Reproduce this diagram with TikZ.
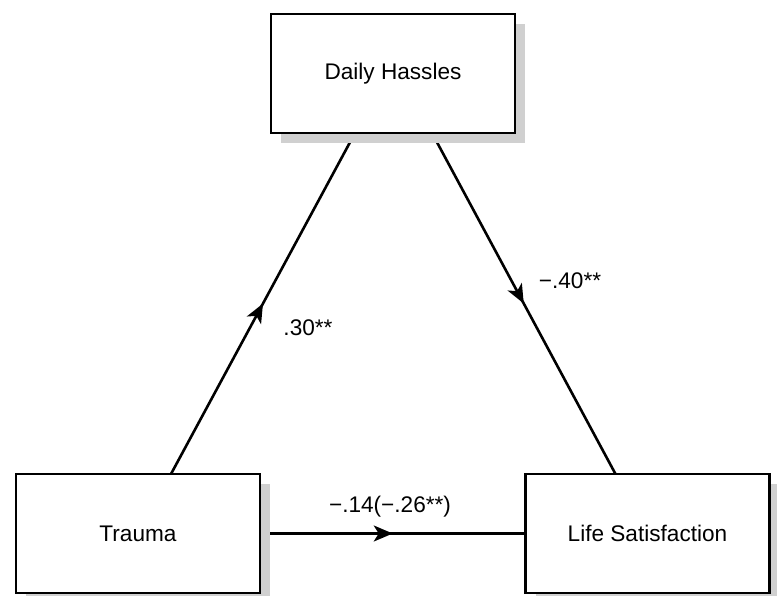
\documentclass[tikz,border=0pt]{standalone}
\usepackage{fontspec}
\setmainfont{Liberation Sans}
\usetikzlibrary{calc,arrows.meta,decorations.markings}
\pgfdeclarelayer{lines}
\pgfdeclarelayer{shadow}
\pgfsetlayers{lines,shadow,main}
\definecolor{shadowgray}{RGB}{208,208,208}
\tikzset{
  box/.style={draw=black, fill=white, line width=2.6pt, minimum width=244pt, minimum height=119pt, outer sep=0pt, inner sep=0pt, font=\fontsize{22.6}{27}\selectfont},
  lbl/.style={font=\fontsize{22.6}{27}\selectfont, inner sep=0pt},
  conn/.style={line width=2.6pt, postaction={decorate}, decoration={markings, mark=at position 0.5 with {\arrow{Stealth[length=19pt,width=16pt,inset=5pt]}}}},
}
\begin{document}
\begin{tikzpicture}[x=1pt,y=-1pt]
\useasboundingbox (0,0) rectangle (777,595);
\node[box] (dh) at (393,73.5) {Daily Hassles};
\node[box] (trauma) at (138,533.5) {Trauma};
\node[box] (ls) at (647.5,533.5) {Life Satisfaction};
\begin{pgfonlayer}{shadow}
  \fill[shadowgray] ($(dh.south west)+(10,10)$) rectangle ($(dh.north east)+(10,10)$);
  \fill[shadowgray] ($(trauma.south west)+(10,10)$) rectangle ($(trauma.north east)+(10,10)$);
  \fill[shadowgray] ($(ls.south west)+(10,10)$) rectangle ($(ls.north east)+(10,10)$);
\end{pgfonlayer}
\begin{pgfonlayer}{lines}
  \draw[conn] ($(trauma.north)+(33,0)$) -- ($(dh.south)+(-38,0)$);
  \draw[conn] ($(dh.south)+(39,0)$) -- ($(ls.north)+(-32,0)$);
  \draw[conn] (trauma.east) -- (ls.west);
\end{pgfonlayer}
\node[lbl] (l1) at (308,328) {.30**};
\node[lbl] (l2) at (570,281) {−.40**};
\node[lbl] (l3) at (390,507) {−.14(−.26**)};
\end{tikzpicture}
\end{document}
